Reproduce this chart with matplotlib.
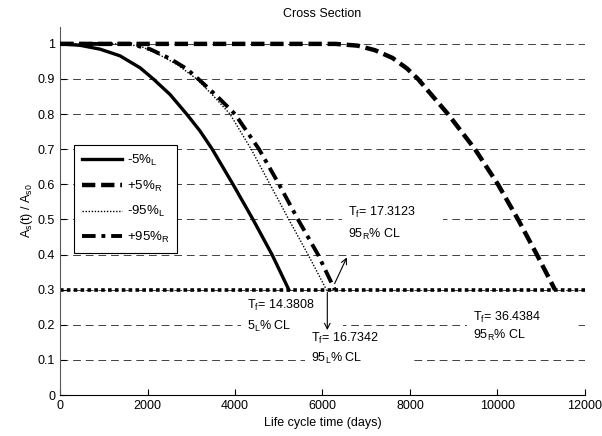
import numpy as np
import matplotlib
matplotlib.use("Agg")
import matplotlib.pyplot as plt

plt.rcParams['font.family'] = ['Liberation Sans', 'DejaVu Sans']
plt.rcParams['mathtext.default'] = 'regular'

# curves (days, As(t)/As0)
t_m5 = [0, 457, 914, 1371, 1829, 2133, 2514, 2895, 3200, 3480, 3954, 4411, 4846, 5230]
a_m5 = [1.0, 0.996, 0.985, 0.966, 0.932, 0.9, 0.856, 0.8, 0.752, 0.7, 0.6, 0.5, 0.4, 0.3]

t_p5 = [0, 6300, 6800, 7200, 7600, 7931, 8183, 8869, 9486, 10011, 10470, 10900, 11314]
a_p5 = [1.0, 1.0, 0.995, 0.982, 0.96, 0.93, 0.9, 0.8, 0.7, 0.6, 0.5, 0.4, 0.3]

t_m95 = [0, 1524, 1905, 2286, 2667, 3124, 3505, 3886, 4370, 4800, 5230, 5669, 6090]
a_m95 = [1.0, 1.0, 0.99, 0.968, 0.942, 0.9, 0.852, 0.8, 0.7, 0.6, 0.5, 0.4, 0.3]

t_p95 = [0, 1600, 2057, 2514, 2895, 3162, 3581, 4000, 4550, 5006, 5440, 5897, 6280]
a_p95 = [1.0, 1.0, 0.985, 0.958, 0.929, 0.9, 0.852, 0.8, 0.7, 0.6, 0.5, 0.4, 0.3]

labels = [r'-5%$_L$', r'+5%$_R$', r'-95%$_L$', r'+95%$_R$']
threshold = 0.3
x_ticks = [0, 2000, 4000, 6000, 8000, 10000, 12000]
y_ticks = [0, 0.1, 0.2, 0.3, 0.4, 0.5, 0.6, 0.7, 0.8, 0.9, 1.0]
y_ticklabels = ['0', '0.1', '0.2', '0.3', '0.4', '0.5', '0.6', '0.7', '0.8', '0.9', '1']

# failure-time notes: (x, y of first line, y of second line, line1, line2)
notes = [
    (4274, 0.256, 0.194, r'T$_f$= 14.3808', r'5$_L$% CL'),
    (5737, 0.160, 0.103, r'T$_f$= 16.7342', r'95$_L$% CL'),
    (6583, 0.519, 0.456, r'T$_f$= 17.3123', r'95$_R$% CL'),
    (9440, 0.222, 0.171, r'T$_f$= 36.4384', r'95$_R$% CL'),
]

fig = plt.figure(figsize=(6.02, 4.36), dpi=100)
ax = fig.add_axes([0.0997, 0.094, 0.872, 0.844])

# horizontal dashed grid
for y in y_ticks:
    ax.axhline(y, color='0.25', lw=0.7, ls=(0, (8, 5)), zorder=1)

ax.plot(t_m5, a_m5, color='k', lw=2.4, ls='-', label=labels[0], zorder=3)
ax.plot(t_p5, a_p5, color='k', lw=3.2, ls=(0, (3.0, 1.3)), label=labels[1], zorder=3)
ax.plot(t_m95, a_m95, color='k', lw=1.0, ls=(0, (1, 1.2)), label=labels[2], zorder=3)
ax.plot(t_p95, a_p95, color='k', lw=2.8, ls=(0, (3.5, 1.5, 1, 1.5)), label=labels[3], zorder=3)

ax.axhline(threshold, color='k', lw=2.6, ls=(0, (1, 0.9)), zorder=2)

ax.set_xlim(0, 12000)
ax.set_ylim(0, 1.048)
ax.set_xticks(x_ticks)
ax.set_yticks(y_ticks)
ax.set_yticklabels(y_ticklabels)
ax.tick_params(direction='in', labelsize=9, length=4, width=0.8)
for s in ['top', 'right']:
    ax.spines[s].set_visible(False)
ax.spines['left'].set_color('0.35')

ax.set_title('Cross Section', fontsize=9, pad=7)
ax.set_xlabel('Life cycle time (days)', fontsize=9)
ax.set_ylabel(r'A$_s$(t) / A$_{s0}$', fontsize=9, labelpad=2)

leg = ax.legend(loc='upper left', bbox_to_anchor=(0.0267, 0.679), fontsize=9.5,
                frameon=True, fancybox=False, edgecolor='k', handlelength=3.0,
                handletextpad=0.4, labelspacing=0.8, borderpad=0.6,
                borderaxespad=0, framealpha=1)
leg.get_frame().set_linewidth(0.8)

# white text boxes hide the grid behind the notes (like the original)
box = dict(facecolor='white', edgecolor='none', boxstyle='square,pad=0.45')
for x, y1, y2, l1, l2 in notes:
    pad = '\u00a0' * 7
    ax.text(x, y1, l1 + pad, fontsize=9, va='center', bbox=box, zorder=1.5)
    ax.text(x, y2, l2 + pad * 2, fontsize=9, va='center', bbox=box, zorder=1.5)

ax.annotate('', xy=(6110, 0.177), xytext=(6110, 0.3),
            arrowprops=dict(arrowstyle='->', color='k', lw=0.8))
ax.annotate('', xy=(6583, 0.399), xytext=(6250, 0.31),
            arrowprops=dict(arrowstyle='->', color='k', lw=0.8))

fig.savefig('out.png', dpi=100)
